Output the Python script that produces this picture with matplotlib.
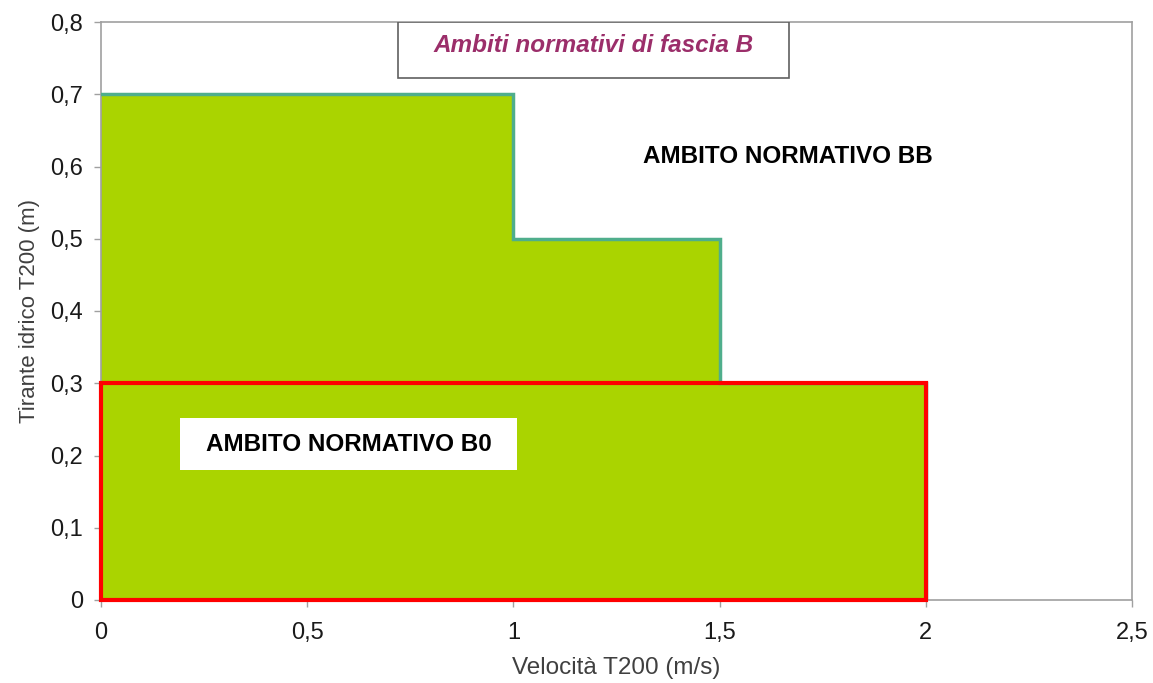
import matplotlib
matplotlib.use("Agg")
import matplotlib.pyplot as plt
from matplotlib.patches import Rectangle

plt.rcParams['font.family'] = ['Liberation Sans', 'DejaVu Sans']

# Data
velocity_edges = [0, 1, 1.5, 2]          # m/s
depth_levels = [0.7, 0.5, 0.3]           # m
b0_velocity_max = 2
b0_depth_max = 0.3
x_ticks = [0, 0.5, 1, 1.5, 2, 2.5]
x_tick_labels = ["0", "0,5", "1", "1,5", "2", "2,5"]
y_ticks = [0, 0.1, 0.2, 0.3, 0.4, 0.5, 0.6, 0.7, 0.8]
y_tick_labels = ["0", "0,1", "0,2", "0,3", "0,4", "0,5", "0,6", "0,7", "0,8"]

fig = plt.figure(figsize=(11.53, 6.83), dpi=100)
ax = fig.add_axes([101/1153, 1 - 600/683, (1132-101)/1153, (600-22)/683])

green = "#AAD400"
teal = "#4FAE8C"

# step polygon
xs = []
ys = []
for i, d in enumerate(depth_levels):
    xs += [velocity_edges[i], velocity_edges[i+1]]
    ys += [d, d]
ax.fill_between(xs, 0, ys, color=green, linewidth=0, zorder=2)
ax.plot(xs + [velocity_edges[-1]], ys + [0], color=teal, lw=2.5, zorder=3,
        solid_joinstyle='miter')

# red rectangle B0
ax.add_patch(Rectangle((0, 0), b0_velocity_max, b0_depth_max, fill=False,
                       edgecolor="#FF0000", lw=3, zorder=4, clip_on=False))

ax.set_xlim(0, 2.5)
ax.set_ylim(0, 0.8)
ax.set_xticks(x_ticks)
ax.set_xticklabels(x_tick_labels)
ax.set_yticks(y_ticks)
ax.set_yticklabels(y_tick_labels)
for s in ax.spines.values():
    s.set_color("#A0A0A0")
    s.set_linewidth(1.2)
ax.tick_params(axis='both', colors="#A0A0A0", labelcolor="#1a1a1a",
               labelsize=17, length=5, width=1)
ax.tick_params(axis='x', pad=11)
ax.tick_params(axis='y', pad=8)

ax.set_xlabel("Velocità T200 (m/s)", fontsize=17.5, color="#404040", labelpad=9)
ax.set_ylabel("Tirante idrico T200 (m)", fontsize=16, color="#404040", labelpad=7)

# title box
ax.add_patch(Rectangle((0.72, 0.7225), 0.948, 0.0775, fill=True, facecolor="white",
                       edgecolor="#606060", lw=1.2, zorder=5))
ax.text(1.195, 0.768, "Ambiti normativi di fascia B", fontsize=17.5, fontweight='bold',
        fontstyle='italic', color="#9B2E6A", ha='center', va='center', zorder=6)

# BB label
ax.text(1.665, 0.614, "AMBITO NORMATIVO BB", fontsize=17.5, fontweight='bold',
        color="black", ha='center', va='center', zorder=6)

# B0 label box
ax.add_patch(Rectangle((0.1916, 0.18), 0.817, 0.072, facecolor="white",
                       edgecolor="none", zorder=5))
ax.text(0.6, 0.215, "AMBITO NORMATIVO B0", fontsize=17.5, fontweight='bold',
        color="black", ha='center', va='center', zorder=6)

fig.savefig("out.png", dpi=100)
